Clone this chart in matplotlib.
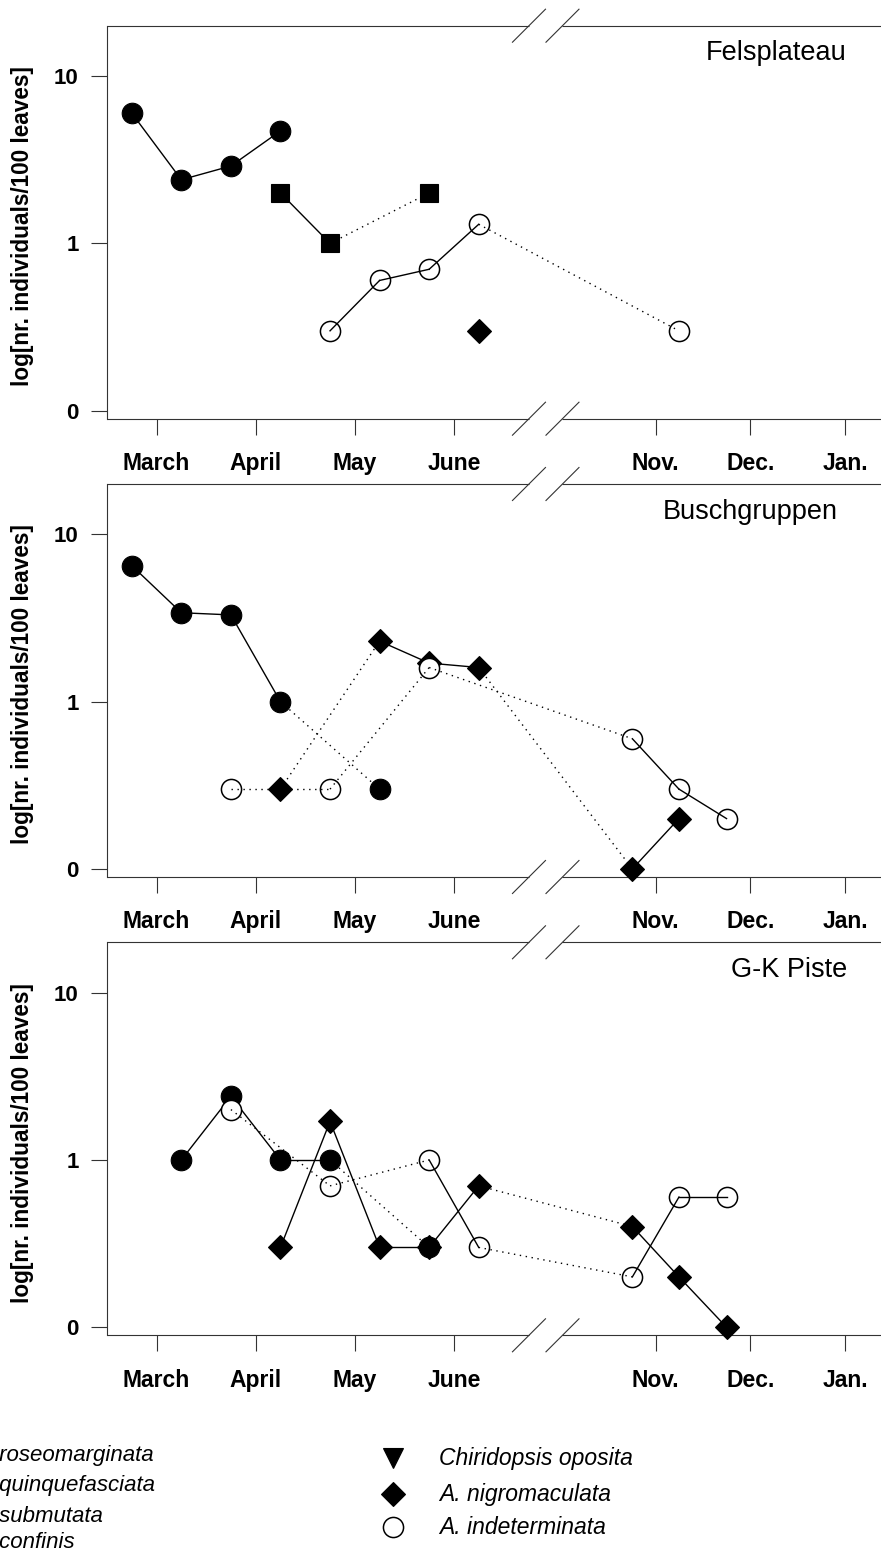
import numpy as np
import matplotlib
matplotlib.use("Agg")
import matplotlib.pyplot as plt
from matplotlib.lines import Line2D
from matplotlib.ticker import NullLocator

plt.rcParams['font.family'] = ['Liberation Sans', 'DejaVu Sans']

nan = np.nan

# sampling dates on a compressed month axis (half-month steps, Jul-Oct cut out)
sample_pos = [2.75, 3.25, 3.75, 4.25, 4.75, 5.25, 5.75, 6.25, 7.80, 8.27, 8.75]
month_labels = ['March', 'April', 'May', 'June', 'Nov.', 'Dec.', 'Jan.']
month_pos = [3, 4, 5, 6, 8.035, 8.99, 9.945]
break_pos = [6.757, 7.095]
ytick_pos = [0.1, 1, 10]
ytick_labels = ['0', '1', '10']

sites = ['Felsplateau', 'Buschgruppen', 'G-K Piste']

# individuals per 100 leaves at each sampling date (nan = not recorded)
roseomarginata = [
    [6.0, 2.4, 2.9, 4.7, nan, nan, nan, nan, nan, nan, nan],
    [6.5, 3.4, 3.3, 1.0, nan, 0.3, nan, nan, nan, nan, nan],
    [nan, 1.0, 2.4, 1.0, 1.0, nan, 0.3, nan, nan, nan, nan],
]
quinquefasciata = [
    [nan, nan, nan, 2.0, 1.0, nan, 2.0, nan, nan, nan, nan],
    [nan] * 11,
    [nan] * 11,
]
nigromaculata = [
    [nan, nan, nan, nan, nan, nan, nan, 0.3, nan, nan, nan],
    [nan, nan, nan, 0.3, nan, 2.3, 1.7, 1.6, 0.1, 0.2, nan],
    [nan, nan, nan, 0.3, 1.7, 0.3, 0.3, 0.7, 0.4, 0.2, 0.1],
]
indeterminata = [
    [nan, nan, nan, nan, 0.3, 0.6, 0.7, 1.3, nan, 0.3, nan],
    [nan, nan, 0.3, nan, 0.3, nan, 1.6, nan, 0.6, 0.3, 0.2],
    [nan, nan, 2.0, nan, 0.7, nan, 1.0, 0.3, 0.2, 0.6, 0.6],
]

species = [
    (roseomarginata, dict(marker='o', ms=14.8, mfc='black')),
    (quinquefasciata, dict(marker='s', ms=13.0, mfc='black')),
    (nigromaculata, dict(marker='D', ms=12.5, mfc='black')),
    (indeterminata, dict(marker='o', ms=14.5, mfc='white', mew=1.1)),
]

legend_left = ['A. roseomarginata', 'A. quinquefasciata', 'A. submutata', 'A. confinis']
legend_left_marker = [dict(marker='o', mfc='black'), dict(marker='s', mfc='black'),
                      dict(marker='^', mfc='black'), dict(marker='s', mfc='white')]
legend_right = ['Chiridopsis oposita', 'A. nigromaculata', 'A. indeterminata']
legend_right_marker = [dict(marker='v', ms=14, mfc='black'),
                       dict(marker='D', ms=12.5, mfc='black'),
                       dict(marker='o', ms=14.5, mfc='white', mew=1.1)]

W, H = 881, 1555
fig = plt.figure(figsize=(W / 100, H / 100), dpi=100)

ax_left, ax_right, ax_h = 107, 900, 393
panel_tops = [25.7, 484.0, 942.3]
title_x = [0.933, 0.921, 0.933]
spine_col = '#333333'
xmin, xmax = 2.5, 10.5


def draw_series(ax, vals, style, z):
    idx = [i for i, v in enumerate(vals) if not np.isnan(v)]
    if not idx:
        return
    st = dict(mec='black', mew=0.8)
    st.update(style)
    ax.plot([sample_pos[i] for i in idx], [vals[i] for i in idx], ls='none',
            zorder=z, clip_on=False, **st)
    # consecutive samples are joined solid, gaps (missing date or axis break) dotted
    for a, b in zip(idx[:-1], idx[1:]):
        gap = (b - a > 1) or (sample_pos[a] < break_pos[0] < sample_pos[b])
        ax.plot([sample_pos[a], sample_pos[b]], [vals[a], vals[b]], color='black',
                lw=1.0, ls=(0, (1, 3.3)) if gap else '-', zorder=z + 0.5,
                clip_on=False)


for k, site in enumerate(sites):
    top = panel_tops[k]
    ax = fig.add_axes([ax_left / W, 1 - (top + ax_h) / H,
                       (ax_right - ax_left) / W, ax_h / H])
    ax.set_yscale('log')
    ax.set_ylim(0.0895, 20.0)
    ax.set_xlim(xmin, xmax)
    ax.yaxis.set_minor_locator(NullLocator())

    for side in ('top', 'bottom', 'right'):
        ax.spines[side].set_visible(False)
    ax.spines['left'].set_color(spine_col)
    ax.spines['left'].set_linewidth(0.8)

    # top and bottom frame lines, interrupted by the axis break
    xt = ax.get_xaxis_transform()
    dx, dy = 0.1665, 16.5 / ax_h
    for y in (0, 1):
        ax.plot([xmin, break_pos[0]], [y, y], transform=xt, color=spine_col,
                lw=0.8, clip_on=False, solid_capstyle='butt')
        ax.plot([break_pos[1], xmax], [y, y], transform=xt, color=spine_col,
                lw=0.8, clip_on=False, solid_capstyle='butt')
        for bx in break_pos:
            ax.plot([bx - dx, bx + dx], [y - dy, y + dy], transform=xt,
                    color=spine_col, lw=0.8, clip_on=False)

    ax.set_xticks(month_pos)
    ax.set_xticklabels(month_labels, fontsize=16.5, fontweight='bold')
    ax.set_yticks(ytick_pos)
    ax.set_yticklabels(ytick_labels, fontsize=16, fontweight='bold')
    ax.tick_params(axis='both', direction='out', length=11.5, width=0.8,
                   color=spine_col)
    ax.tick_params(axis='x', pad=12.5)
    ax.tick_params(axis='y', pad=9)

    for z, (data, style) in enumerate(species):
        draw_series(ax, data[k], style, 3 + z)

    ax.text(title_x[k], 0.93, site, transform=ax.transAxes, ha='right',
            va='center', fontsize=19.5)

    fig.text(22.5 / W, 1 - (top + ax_h / 2 + 4) / H,
             'log[nr. individuals/100 leaves]', rotation=90, ha='center',
             va='center', fontsize=16.3, fontweight='bold')

# species key below the panels
left_rows = [1455, 1485, 1516, 1543]
right_rows = [1458, 1494, 1527]
for lab, mk, y in zip(legend_left, legend_left_marker, left_rows):
    fig.add_artist(Line2D([-71 / W], [1 - y / H], transform=fig.transFigure,
                          ls='none', ms=14, mec='black', mew=0.8, **mk))
    fig.text(-28 / W, 1 - y / H, lab, ha='left', va='center', fontsize=16,
             style='italic')
for lab, mk, y in zip(legend_right, legend_right_marker, right_rows):
    st = dict(mec='black', mew=0.8)
    st.update(mk)
    fig.add_artist(Line2D([393 / W], [1 - y / H], transform=fig.transFigure,
                          ls='none', **st))
    fig.text(439 / W, 1 - y / H, lab, ha='left', va='center', fontsize=16.5,
             style='italic')

fig.savefig('out.png', dpi=100)
